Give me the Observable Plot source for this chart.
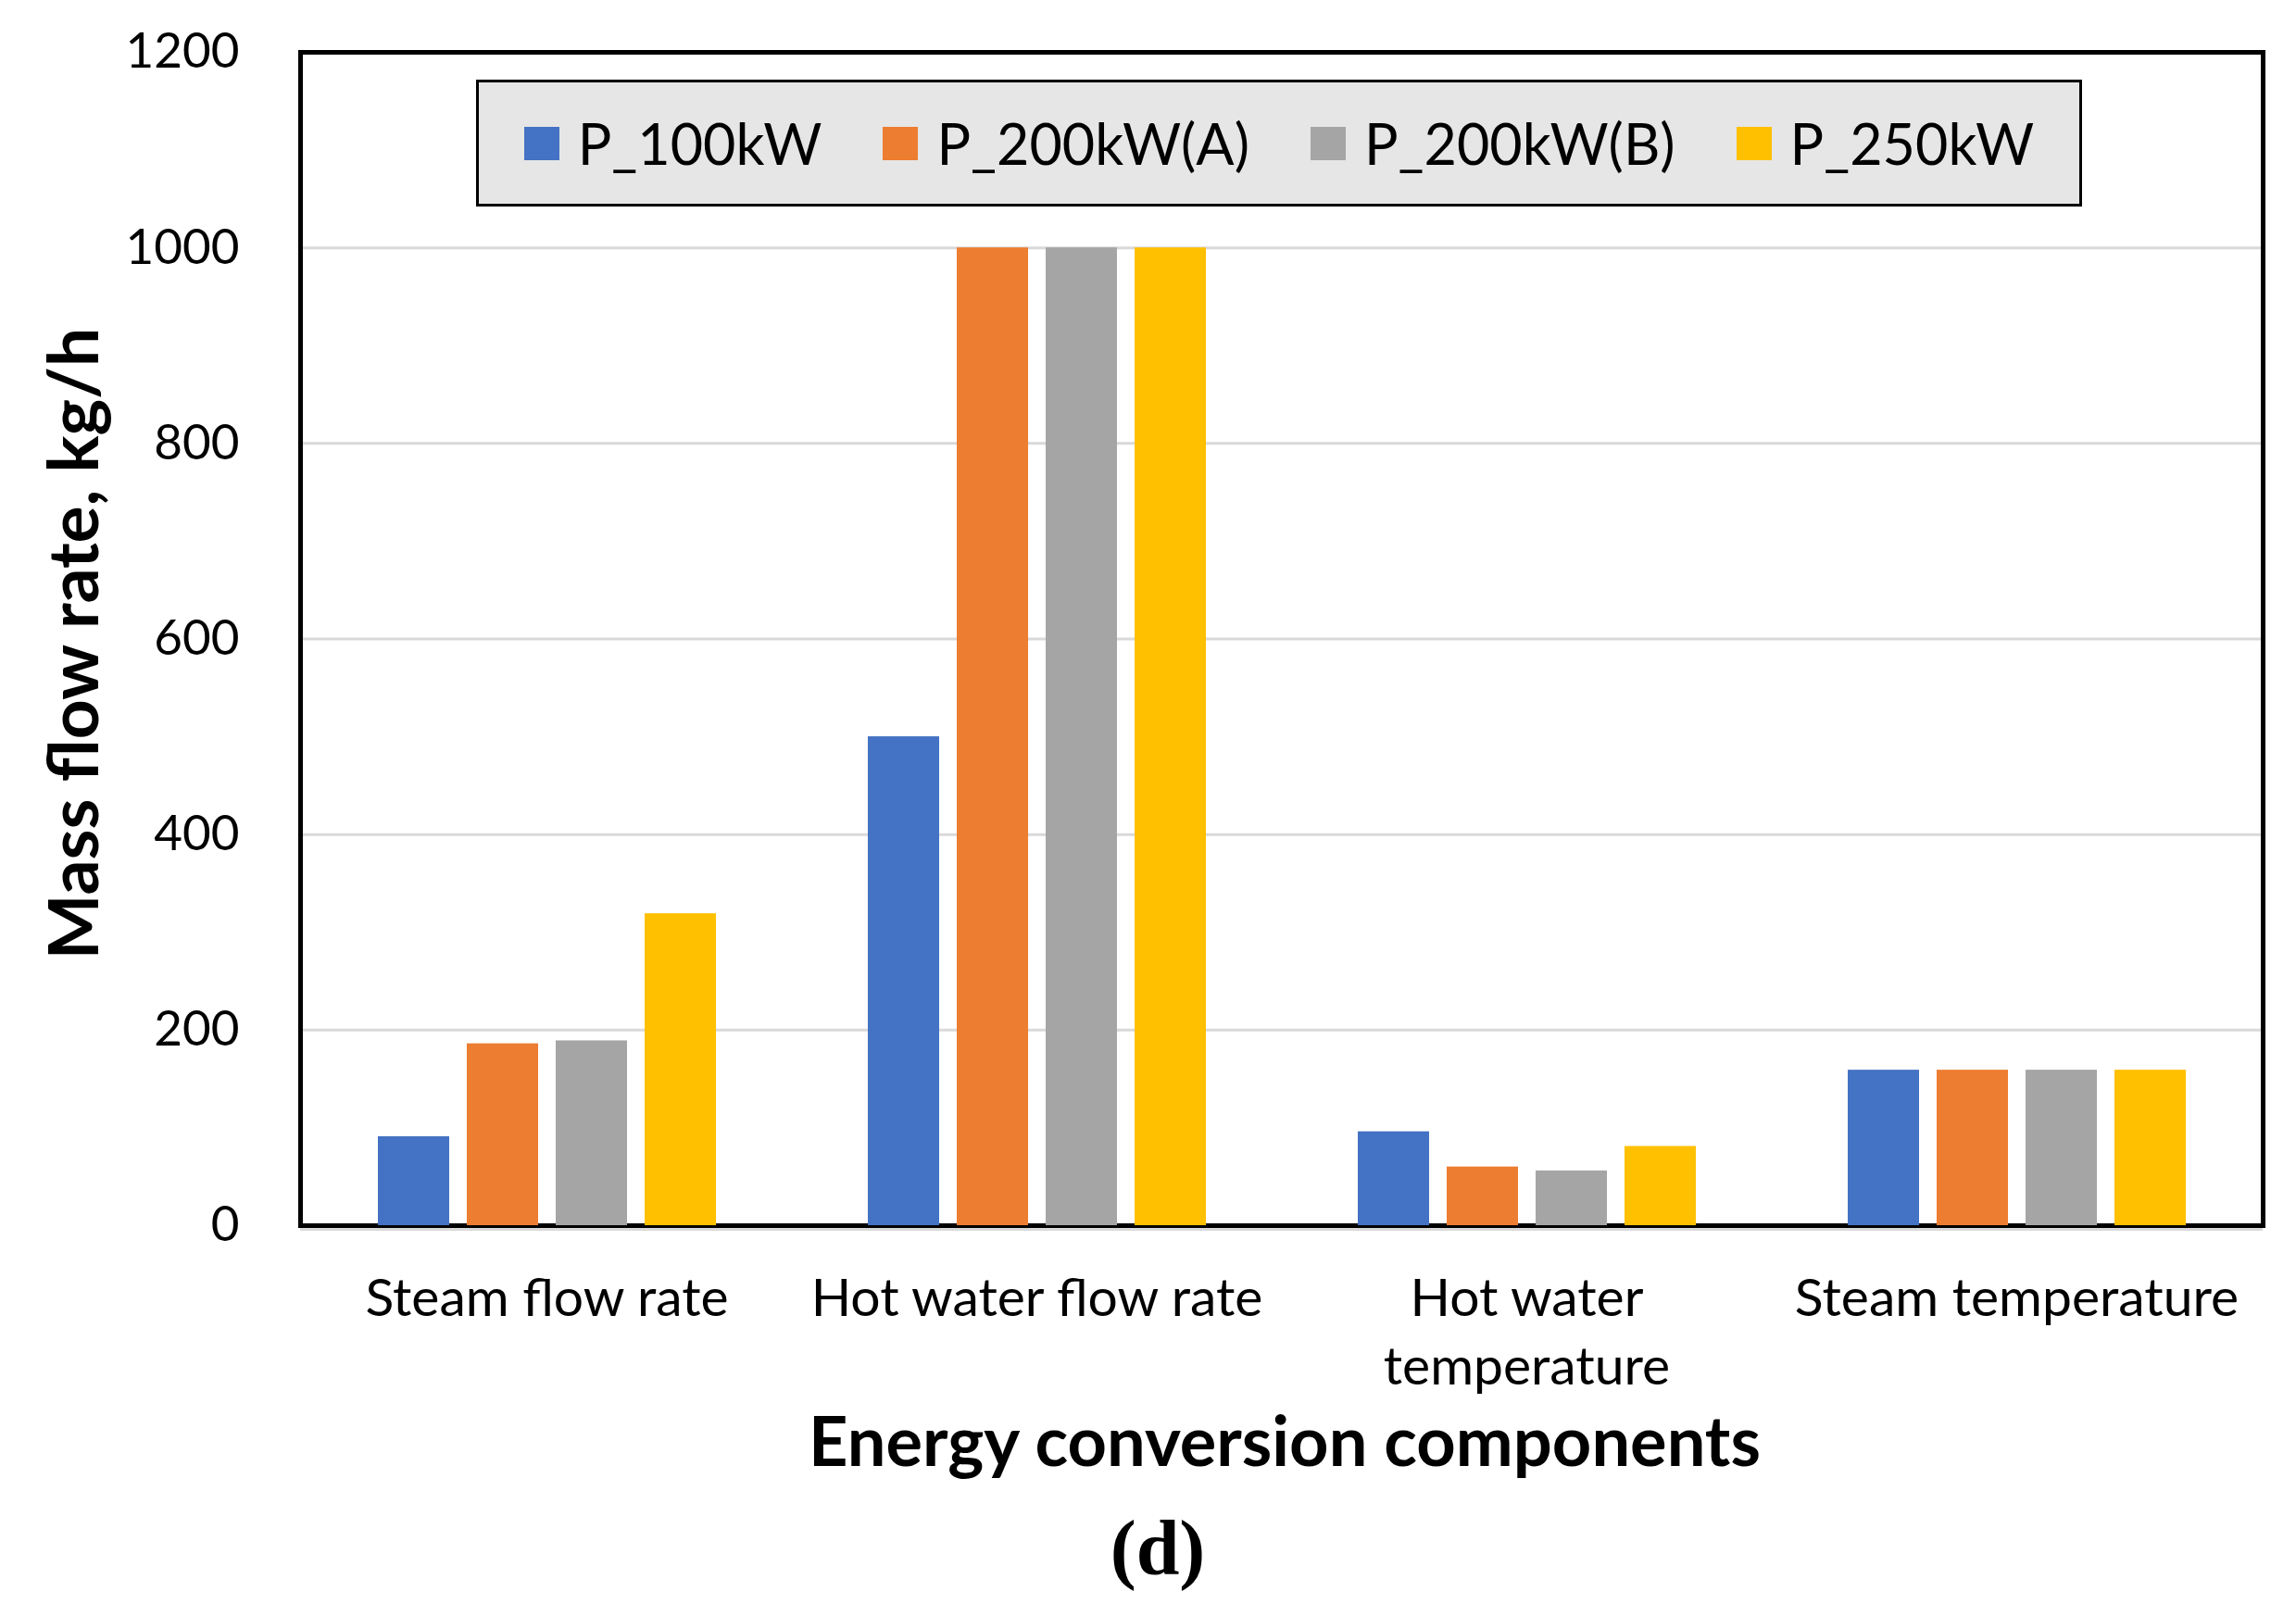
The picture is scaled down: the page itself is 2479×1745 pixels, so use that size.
<!DOCTYPE html>
<html>
<head>
<meta charset="utf-8">
<script src="https://cdn.jsdelivr.net/npm/d3@7"></script>
<script src="https://cdn.jsdelivr.net/npm/@observablehq/plot@0.6"></script>
<style>
  body { margin: 0; background: #fff; }
  #wrap { position: relative; width: 2479px; height: 1745px; overflow: hidden; font-family: Lato, sans-serif; color: #000; }
  #wrap svg { position: absolute; left: 0; top: 0; }
  .legend { position: absolute; left: 514px; top: 86px; width: 1734px; height: 137px; box-sizing: border-box;
            background: #e6e6e6; border: 3px solid #000; display: flex; align-items: center; justify-content: center;
            gap: 66px; font-size: 61px; line-height: 1; }
  .legend .item { display: flex; align-items: center; gap: 20px; white-space: nowrap; }
  .legend .sw { width: 38px; height: 36px; display: inline-block; }
  .ytitle { position: absolute; left: 77px; top: 695px; transform: translate(-50%, -50%) rotate(-90deg);
            font-weight: 700; font-size: 75px; line-height: 1; white-space: nowrap; }
  .xtitle { position: absolute; left: 1387px; top: 1555px; transform: translate(-50%, -50%);
            font-weight: 700; font-size: 74px; line-height: 1; white-space: nowrap; }
  .caption { position: absolute; left: 1250px; top: 1630px; transform: translateX(-50%);
             font-family: "Liberation Serif", serif; font-weight: 700; font-size: 84px; line-height: 1; white-space: nowrap; }
</style>
</head>
<body>
<div id="wrap"></div>
<script>
// ---- data ----
const categories = ["Steam flow rate", "Hot water flow rate", "Hot water temperature", "Steam temperature"];
const categoryLabels = ["Steam flow rate", "Hot water flow rate", "Hot water\ntemperature", "Steam temperature"];
const seriesNames = ["P_100kW", "P_200kW(A)", "P_200kW(B)", "P_250kW"];
const seriesColors = ["#4472C4", "#ED7D31", "#A5A5A5", "#FFC000"];
const p100kW  = [91, 500, 96, 159];
const p200kWA = [186, 1000, 60, 159];
const p200kWB = [189, 1000, 56, 159];
const p250kW  = [319, 1000, 81, 159];
const yTicks = [0, 200, 400, 600, 800, 1000, 1200];
const yTitle = "Mass flow rate, kg/h";
const xTitle = "Energy conversion components";
const captionText = "(d)";

const seriesValues = [p100kW, p200kWA, p200kWB, p250kW];
const rows = categories.flatMap((c, i) => seriesNames.map((s, j) => ({category: c, series: s, value: seriesValues[j][i]})));

// ---- layout ----
const W = 2479, H = 1745;
const dims = {width: W, height: H, marginLeft: 324, marginRight: 36, marginTop: 56, marginBottom: 422};

const wrap = document.getElementById("wrap");

// background: grid, y axis, frame
const bg = Plot.plot({
  ...dims,
  style: {background: "transparent", fontFamily: "Lato, sans-serif", color: "#000"},
  y: {domain: [0, 1200]},
  marks: [
    Plot.gridY({ticks: yTicks.filter(t => t > 0 && t < 1200), stroke: "#d9d9d9", strokeOpacity: 1, strokeWidth: 3}),
    Plot.axisY({ticks: yTicks, tickSize: 0, tickPadding: 66, fontSize: 53, label: null, tickFormat: d => String(d)}),
    Plot.ruleY([0], {stroke: "#d9d9d9", strokeWidth: 3, dy: 4}),
    Plot.frame({stroke: "#000", strokeWidth: 5})
  ]
});
wrap.appendChild(bg);

// foreground: grouped bars
const fg = Plot.plot({
  ...dims,
  style: {background: "transparent", fontFamily: "Lato, sans-serif", color: "#000"},
  fx: {domain: categories, paddingInner: 0.275, paddingOuter: 0.1375},
  x: {domain: seriesNames, paddingInner: 0.2, paddingOuter: 0.1, axis: null},
  y: {domain: [0, 1200], axis: null},
  color: {domain: seriesNames, range: seriesColors},
  marks: [
    Plot.barY(rows, {fx: "category", x: "series", y: "value", fill: "series"}),
    Plot.axisFx({anchor: "bottom", tickSize: 0, tickPadding: 44, fontSize: 57, lineHeight: 1.31, label: null,
                 tickFormat: c => categoryLabels[categories.indexOf(c)]})
  ]
});
wrap.appendChild(fg);

// legend
const legend = document.createElement("div");
legend.className = "legend";
seriesNames.forEach((s, i) => {
  const item = document.createElement("div");
  item.className = "item";
  const sw = document.createElement("span");
  sw.className = "sw";
  sw.style.background = seriesColors[i];
  const t = document.createElement("span");
  t.textContent = s;
  item.appendChild(sw); item.appendChild(t);
  legend.appendChild(item);
});
wrap.appendChild(legend);

// titles
const yt = document.createElement("div"); yt.className = "ytitle"; yt.textContent = yTitle; wrap.appendChild(yt);
const xt = document.createElement("div"); xt.className = "xtitle"; xt.textContent = xTitle; wrap.appendChild(xt);
const cap = document.createElement("div"); cap.className = "caption"; cap.textContent = captionText; wrap.appendChild(cap);
</script>
</body>
</html>
